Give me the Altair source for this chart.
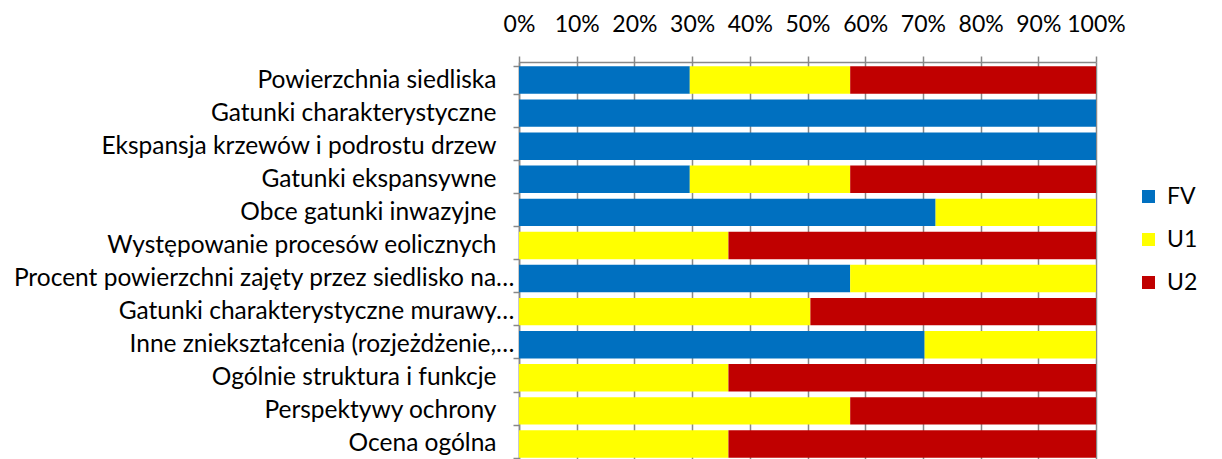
import altair as alt
import pandas as pd

categories = [
    "Powierzchnia siedliska",
    "Gatunki charakterystyczne",
    "Ekspansja krzewów i podrostu drzew",
    "Gatunki ekspansywne",
    "Obce gatunki inwazyjne",
    "Występowanie procesów eolicznych",
    "Procent powierzchni zajęty przez siedlisko na…",
    "Gatunki charakterystyczne murawy…",
    "Inne zniekształcenia (rozjeżdżenie,…",
    "Ogólnie struktura i funkcje",
    "Perspektywy ochrony",
    "Ocena ogólna",
]
series = ["FV", "U1", "U2"]
fv = [29.6, 100, 100, 29.6, 72.2, 0, 57.4, 0, 70.3, 0, 0, 0]
u1 = [27.8, 0, 0, 27.8, 27.8, 36.3, 42.6, 50.5, 29.7, 36.3, 57.4, 36.3]
u2 = [42.6, 0, 0, 42.6, 0, 63.7, 0, 49.5, 0, 63.7, 42.6, 63.7]
colors = ["#0070C0", "#FFFF00", "#C00000"]
tick_values = [0, 0.1, 0.2, 0.3, 0.4, 0.5, 0.6, 0.7, 0.8, 0.9, 1.0]

rows = []
for i, c in enumerate(categories):
    for j, (s, vals) in enumerate(zip(series, [fv, u1, u2])):
        rows.append({"category": c, "series": s, "value": vals[i], "order": j})
df = pd.DataFrame(rows)

FONT = "Lato"
GRAY = "#888888"

chart = (
    alt.Chart(df)
    .mark_bar()
    .encode(
        x=alt.X(
            "value:Q",
            stack="normalize",
            title=None,
            scale=alt.Scale(domain=[0, 1], nice=False),
            axis=alt.Axis(
                orient="top",
                format=".0%",
                values=tick_values,
                grid=True,
                gridColor=GRAY,
                gridWidth=1.5,
                domainColor=GRAY,
                domainWidth=1.5,
                tickColor=GRAY,
                tickWidth=1.5,
                tickSize=6,
                labelFont=FONT,
                labelFontSize=23,
                labelColor="black",
                labelPadding=20,
                labelFlush=False,
                labelOverlap=False,
            ),
        ),
        y=alt.Y(
            "category:N",
            sort=categories,
            title=None,
            scale=alt.Scale(paddingInner=0.17, paddingOuter=0.13),
            axis=alt.Axis(
                tickBand="extent",
                domainColor=GRAY,
                domainWidth=1.5,
                tickColor=GRAY,
                tickWidth=1.5,
                tickSize=6,
                labelFont=FONT,
                labelFontSize=24.5,
                labelColor="black",
                labelPadding={
                    "condition": {"test": "indexof(datum.label, '…') >= 0", "value": -1},
                    "value": 17,
                },
                labelLimit=700,
            ),
        ),
        color=alt.Color(
            "series:N",
            scale=alt.Scale(domain=series, range=colors),
            legend=alt.Legend(
                title=None,
                orient="none",
                legendX=618,
                legendY=123,
                symbolType="square",
                symbolSize=169,
                symbolStrokeWidth=0,
                labelFont=FONT,
                labelFontSize=23,
                labelColor="black",
                labelOffset=7,
                rowPadding=19,
            ),
        ),
        order=alt.Order("order:Q"),
    )
    .properties(
        width=577,
        height=400,
        autosize=alt.AutoSizeParams(type="none"),
        padding={"left": 511, "top": 54, "right": 118, "bottom": 0},
    )
    .configure_view(stroke=None)
)

chart.save("out.html", embed_options={"renderer": "svg", "actions": False})
